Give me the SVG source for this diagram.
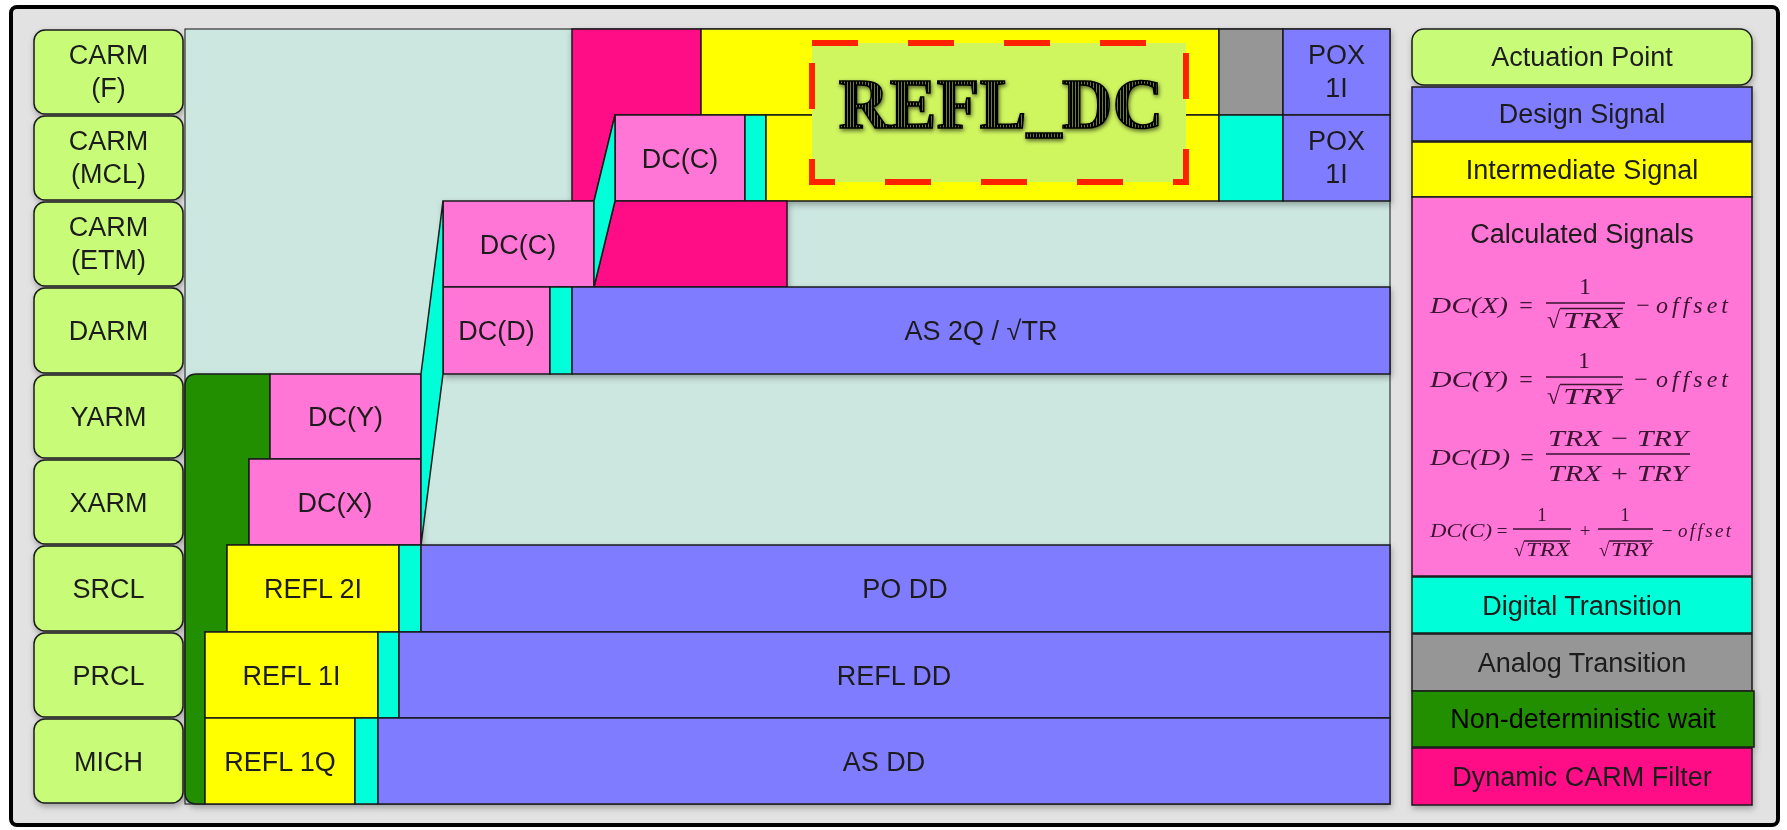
<svg xmlns="http://www.w3.org/2000/svg" width="1787" height="830" viewBox="0 0 1787 830">
  <defs>
    <style>
      .lbl { fill: #c8fb78; stroke: #1a1a1a; stroke-width: 1.5; }
      .blk { stroke: #1a1a1a; stroke-width: 1.5; }
      .des { fill: #7f7cff; }
      .int { fill: #ffff00; }
      .calc { fill: #ff76d6; }
      .dig { fill: #00ffd8; }
      .ana { fill: #969696; }
      .wait { fill: #248f00; }
      .dyn { fill: #ff0d87; }
      .t { font-family: "Liberation Sans", Arial, sans-serif; font-size: 27px; fill: #1c1c1c; text-anchor: middle; }
      .m { font-family: "Liberation Serif", "DejaVu Serif", serif; font-style: italic; font-size: 24px; fill: #3a1232; }
      .mr { font-family: "Liberation Serif", "DejaVu Serif", serif; font-size: 24px; fill: #3a1232; }
      .ms { font-size: 19px; }
      .fb { stroke: #3a1232; stroke-width: 1.4; }
    </style>
    <filter id="sh" x="-5%" y="-5%" width="110%" height="115%">
      <feDropShadow dx="1" dy="3" stdDeviation="3" flood-color="#000" flood-opacity="0.3"/>
    </filter>
    <filter id="tsh" x="-10%" y="-20%" width="120%" height="140%">
      <feDropShadow dx="1" dy="2" stdDeviation="2" flood-color="#000" flood-opacity="0.6"/>
    </filter>
    <pattern id="hatch" width="3" height="3" patternUnits="userSpaceOnUse">
      <rect width="3" height="3" fill="#000"/>
      <rect x="1" width="0.8" height="3" fill="#8a9a40"/>
    </pattern>
  </defs>

  <!-- outer frame -->
  <rect x="11" y="7" width="1767" height="818" rx="6" fill="#e2e2e2" stroke="#000" stroke-width="4"/>

  <!-- actuation point labels -->
  <g id="labels" filter="url(#sh)">
    <g id="lbl-carm-f"><rect class="lbl" x="34" y="30" width="149" height="84" rx="11"/><text class="t" x="108.5" y="64">CARM</text><text class="t" x="108.5" y="97">(F)</text></g>
    <g id="lbl-carm-mcl"><rect class="lbl" x="34" y="116" width="149" height="84" rx="11"/><text class="t" x="108.5" y="150">CARM</text><text class="t" x="108.5" y="183">(MCL)</text></g>
    <g id="lbl-carm-etm"><rect class="lbl" x="34" y="202" width="149" height="84" rx="11"/><text class="t" x="108.5" y="236">CARM</text><text class="t" x="108.5" y="269">(ETM)</text></g>
    <g id="lbl-darm"><rect class="lbl" x="34" y="288" width="149" height="85" rx="11"/><text class="t" x="108.5" y="340">DARM</text></g>
    <g id="lbl-yarm"><rect class="lbl" x="34" y="375" width="149" height="83" rx="11"/><text class="t" x="108.5" y="426">YARM</text></g>
    <g id="lbl-xarm"><rect class="lbl" x="34" y="460" width="149" height="84" rx="11"/><text class="t" x="108.5" y="512">XARM</text></g>
    <g id="lbl-srcl"><rect class="lbl" x="34" y="546" width="149" height="85" rx="11"/><text class="t" x="108.5" y="598">SRCL</text></g>
    <g id="lbl-prcl"><rect class="lbl" x="34" y="633" width="149" height="84" rx="11"/><text class="t" x="108.5" y="685">PRCL</text></g>
    <g id="lbl-mich"><rect class="lbl" x="34" y="719" width="149" height="84" rx="11"/><text class="t" x="108.5" y="771">MICH</text></g>
  </g>

  <!-- main panel -->
  <g id="panel">
    <rect x="185" y="29" width="1205" height="775" fill="#cce6e0" stroke="#333" stroke-width="1.2"/>
  </g>

  <g id="blocks" filter="url(#sh)">
    <!-- non-deterministic wait -->
    <g id="wait"><path class="wait blk" d="M197,374 L270,374 L270,459 L249,459 L249,545 L227,545 L227,632 L205,632 L205,804 L197,804 Q185,804 185,792 L185,386 Q185,374 197,374 Z"/></g>

    <!-- CARM (F) row -->
    <g id="carm-filter"><path class="dyn blk" d="M572,29 L701,29 L701,115 L615,115 L594,201 L572,201 Z"/></g>
    <g id="int-f"><rect class="int blk" x="701" y="29" width="518" height="86"/></g>
    <g id="analog-f"><rect class="ana blk" x="1219" y="29" width="64" height="86"/></g>
    <g id="pox-f"><rect class="des blk" x="1283" y="29" width="107" height="86"/><text class="t" x="1336.5" y="64">POX</text><text class="t" x="1336.5" y="97">1I</text></g>

    <!-- CARM (MCL) row -->
    <g id="dcc-mcl"><rect class="calc blk" x="615" y="115" width="130" height="86"/><text class="t" x="680" y="168">DC(C)</text></g>
    <g id="dig-mcl"><rect class="dig blk" x="745" y="115" width="21" height="86"/></g>
    <g id="int-mcl"><rect class="int blk" x="766" y="115" width="453" height="86"/></g>
    <g id="dig-mcl2"><rect class="dig blk" x="1219" y="115" width="64" height="86"/></g>
    <g id="pox-mcl"><rect class="des blk" x="1283" y="115" width="107" height="86"/><text class="t" x="1336.5" y="150">POX</text><text class="t" x="1336.5" y="183">1I</text></g>

    <!-- CARM (ETM) row -->
    <g id="dcc-etm"><rect class="calc blk" x="443" y="201" width="151" height="86"/><text class="t" x="518" y="254">DC(C)</text></g>
    <g id="carm-filter-etm"><path class="dyn blk" d="M615,201 L787,201 L787,287 L594,287 Z"/></g>

    <!-- DARM row -->
    <g id="dcd"><rect class="calc blk" x="443" y="287" width="107" height="87"/><text class="t" x="496.5" y="340">DC(D)</text></g>
    <g id="dig-darm"><rect class="dig blk" x="550" y="287" width="22" height="87"/></g>
    <g id="as2q"><rect class="des blk" x="572" y="287" width="818" height="87"/><text class="t" x="981" y="340">AS 2Q / √TR</text></g>

    <!-- YARM / XARM rows -->
    <g id="dcy"><rect class="calc blk" x="270" y="374" width="151" height="85"/><text class="t" x="345.5" y="426">DC(Y)</text></g>
    <g id="dcx"><rect class="calc blk" x="249" y="459" width="172" height="86"/><text class="t" x="335" y="512">DC(X)</text></g>

    <!-- SRCL row -->
    <g id="refl2i"><rect class="int blk" x="227" y="545" width="172" height="87"/><text class="t" x="313" y="598">REFL 2I</text></g>
    <g id="dig-srcl"><rect class="dig blk" x="399" y="545" width="22" height="87"/></g>
    <g id="podd"><rect class="des blk" x="421" y="545" width="969" height="87"/><text class="t" x="905" y="598">PO DD</text></g>

    <!-- PRCL row -->
    <g id="refl1i"><rect class="int blk" x="205" y="632" width="173" height="86"/><text class="t" x="291.5" y="685">REFL 1I</text></g>
    <g id="dig-prcl"><rect class="dig blk" x="378" y="632" width="21" height="86"/></g>
    <g id="refldd"><rect class="des blk" x="399" y="632" width="991" height="86"/><text class="t" x="894" y="685">REFL DD</text></g>

    <!-- MICH row -->
    <g id="refl1q"><rect class="int blk" x="205" y="718" width="150" height="86"/><text class="t" x="280" y="771">REFL 1Q</text></g>
    <g id="dig-mich"><rect class="dig blk" x="355" y="718" width="23" height="86"/></g>
    <g id="asdd"><rect class="des blk" x="378" y="718" width="1012" height="86"/><text class="t" x="884" y="771">AS DD</text></g>
  </g>

  <!-- slanted digital transitions -->
  <g id="connectors">
    <path class="dig blk" d="M615,115 L615,201 L594,287 L594,201 Z"/>
    <path class="dig blk" d="M443,201 L443,374 L421,545 L421,374 Z"/>
  </g>

  <!-- REFL_DC highlight -->
  <g id="refl-dc">
    <rect x="812" y="43" width="374" height="139" fill="#cff55f" stroke="#ff2200" stroke-width="6" stroke-dasharray="46 50"/>
    <text x="1001" y="128" text-anchor="middle" textLength="325" lengthAdjust="spacingAndGlyphs" font-family="Liberation Serif, DejaVu Serif, serif" font-weight="bold" font-size="72" fill="url(#hatch)" stroke="#000" stroke-width="1.5" filter="url(#tsh)">REFL_DC</text>
  </g>

  <!-- legend -->
  <g id="legend" filter="url(#sh)">
    <g id="leg-actuation"><rect class="lbl" x="1412" y="29" width="340" height="56" rx="12"/><text class="t" x="1582" y="66">Actuation Point</text></g>
    <g id="leg-design"><rect class="des blk" x="1412" y="87" width="340" height="54"/><text class="t" x="1582" y="123">Design Signal</text></g>
    <g id="leg-intermediate"><rect class="int blk" x="1412" y="142" width="340" height="55"/><text class="t" x="1582" y="179">Intermediate Signal</text></g>
    <g id="leg-calculated">
      <rect class="calc blk" x="1412" y="197" width="340" height="379"/>
      <text class="t" x="1582" y="243">Calculated Signals</text>
      <!-- DC(X) -->
      <text class="m" x="1430" y="313" textLength="78" lengthAdjust="spacingAndGlyphs">DC(X)</text>
      <text class="mr" x="1526" y="313" text-anchor="middle">=</text>
      <text class="mr" x="1585" y="294" text-anchor="middle">1</text>
      <line class="fb" x1="1546" y1="303" x2="1625" y2="303"/>
      <text class="mr" x="1547" y="328">√</text>
      <line class="fb" x1="1560" y1="308.5" x2="1623" y2="308.5"/>
      <text class="m" x="1563" y="328" textLength="59" lengthAdjust="spacingAndGlyphs">TRX</text>
      <text class="mr" x="1643" y="313" text-anchor="middle">−</text>
      <text class="m" x="1656" y="313" textLength="72" lengthAdjust="spacing">offset</text>
      <!-- DC(Y) -->
      <text class="m" x="1430" y="387" textLength="78" lengthAdjust="spacingAndGlyphs">DC(Y)</text>
      <text class="mr" x="1526" y="387" text-anchor="middle">=</text>
      <text class="mr" x="1584" y="368" text-anchor="middle">1</text>
      <line class="fb" x1="1546" y1="377" x2="1623" y2="377"/>
      <text class="mr" x="1547" y="404">√</text>
      <line class="fb" x1="1560" y1="384.5" x2="1622" y2="384.5"/>
      <text class="m" x="1563" y="404" textLength="58" lengthAdjust="spacingAndGlyphs">TRY</text>
      <text class="mr" x="1641" y="387" text-anchor="middle">−</text>
      <text class="m" x="1656" y="387" textLength="72" lengthAdjust="spacing">offset</text>
      <!-- DC(D) -->
      <text class="m" x="1430" y="465" textLength="80" lengthAdjust="spacingAndGlyphs">DC(D)</text>
      <text class="mr" x="1527" y="465" text-anchor="middle">=</text>
      <text class="m" x="1618" y="446" text-anchor="middle" textLength="140" lengthAdjust="spacingAndGlyphs">TRX − TRY</text>
      <line class="fb" x1="1546" y1="454" x2="1690" y2="454"/>
      <text class="m" x="1618" y="481" text-anchor="middle" textLength="140" lengthAdjust="spacingAndGlyphs">TRX + TRY</text>
      <!-- DC(C) -->
      <text class="m ms" x="1430" y="537" textLength="62" lengthAdjust="spacingAndGlyphs">DC(C)</text>
      <text class="mr ms" x="1502" y="537" text-anchor="middle">=</text>
      <text class="mr ms" x="1542" y="521" text-anchor="middle">1</text>
      <line class="fb" x1="1513" y1="529" x2="1571" y2="529"/>
      <text class="mr ms" x="1514" y="556">√</text>
      <line class="fb" x1="1524" y1="541" x2="1570" y2="541"/>
      <text class="m ms" x="1526" y="556" textLength="44" lengthAdjust="spacingAndGlyphs">TRX</text>
      <text class="mr ms" x="1585" y="537" text-anchor="middle">+</text>
      <text class="mr ms" x="1625" y="521" text-anchor="middle">1</text>
      <line class="fb" x1="1598" y1="529" x2="1653" y2="529"/>
      <text class="mr ms" x="1599" y="556">√</text>
      <line class="fb" x1="1609" y1="541" x2="1652" y2="541"/>
      <text class="m ms" x="1611" y="556" textLength="41" lengthAdjust="spacingAndGlyphs">TRY</text>
      <text class="mr ms" x="1667" y="537" text-anchor="middle">−</text>
      <text class="m ms" x="1678" y="537" textLength="53" lengthAdjust="spacing">offset</text>
    </g>
    <g id="leg-digital"><rect class="dig blk" x="1412" y="577" width="340" height="56"/><text class="t" x="1582" y="615">Digital Transition</text></g>
    <g id="leg-analog"><rect class="ana blk" x="1412" y="634" width="340" height="57"/><text class="t" x="1582" y="672">Analog Transition</text></g>
    <g id="leg-wait"><rect class="wait blk" x="1412" y="691" width="342" height="56"/><text class="t" x="1583" y="728" style="fill:#050505">Non-deterministic wait</text></g>
    <g id="leg-dynamic"><rect class="dyn blk" x="1412" y="748" width="340" height="57"/><text class="t" x="1582" y="786">Dynamic CARM Filter</text></g>
  </g>
</svg>
